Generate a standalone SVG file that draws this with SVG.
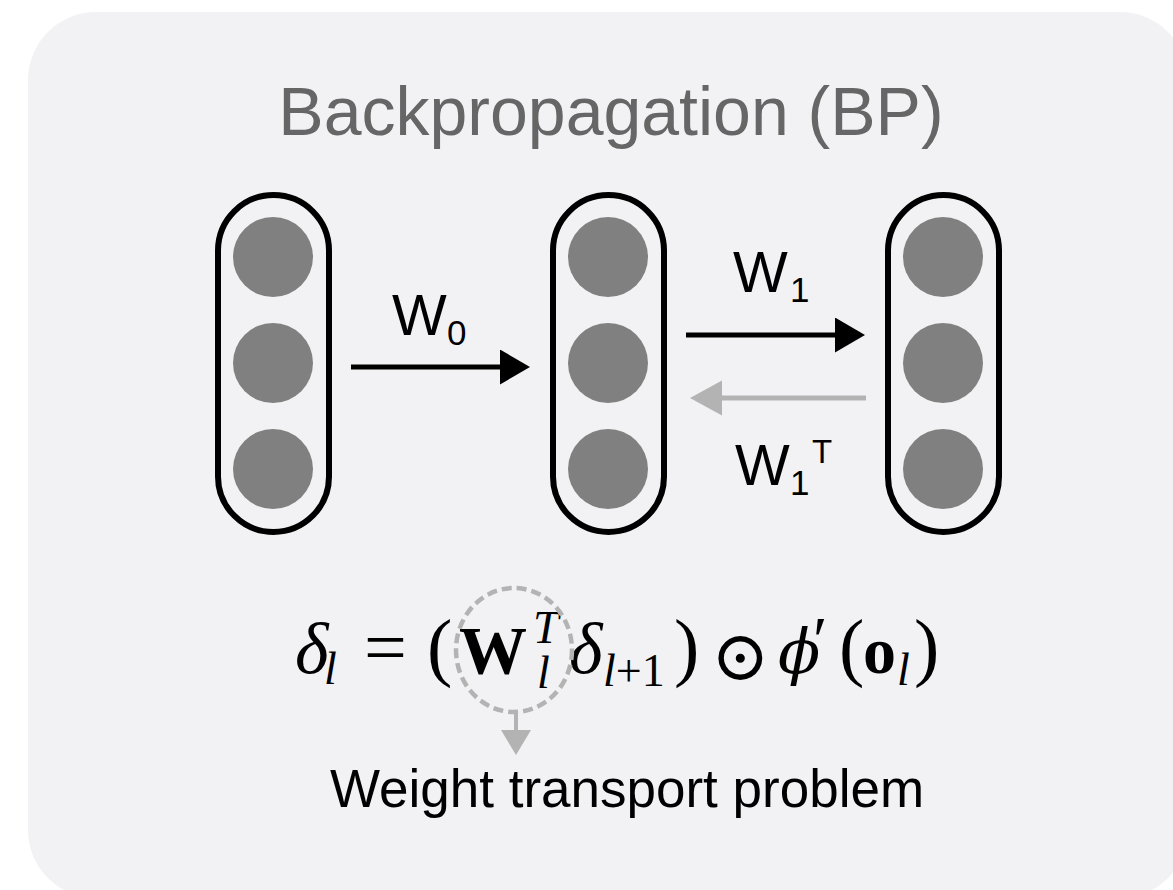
<svg xmlns="http://www.w3.org/2000/svg" width="1173" height="890" viewBox="0 0 1173 890">
<style>
.pill{fill:none;stroke:#000;stroke-width:6}
.neuron{fill:#808080}
.lbl{font-family:"Liberation Sans",Arial,sans-serif;fill:#000}
.math{font-family:"Liberation Serif","DejaVu Serif",serif;fill:#000}
.it{font-style:italic}
.bf{font-weight:bold}
</style>
<defs>
<marker id="hBlack" markerUnits="userSpaceOnUse" markerWidth="32" markerHeight="36" refX="2" refY="17.5" orient="auto">
<path d="M0,0 L30,17.5 L0,35 z" fill="#000"/>
</marker>
<marker id="hGray" markerUnits="userSpaceOnUse" markerWidth="34" markerHeight="36" refX="2" refY="17.5" orient="auto">
<path d="M0,0 L32,17.5 L0,35 z" fill="#b3b3b3"/>
</marker>
<marker id="hGraySm" markerUnits="userSpaceOnUse" markerWidth="28" markerHeight="32" refX="2" refY="15" orient="auto">
<path d="M0,0 L25,15 L0,30 z" fill="#b3b3b3"/>
</marker>
</defs>
<rect id="panel" x="28" y="12" width="1160" height="886" rx="68" ry="68" fill="#f2f2f4"/>
<text id="title" x="611" y="135" text-anchor="middle" font-family="'Liberation Sans',Arial,sans-serif" font-size="68" fill="#666666">Backpropagation (BP)</text>
<g id="layer0">
<rect class="pill" x="218" y="195" width="111" height="337" rx="55.5" ry="55.5"/>
<circle class="neuron" cx="273" cy="257" r="40"/>
<circle class="neuron" cx="273" cy="363" r="40"/>
<circle class="neuron" cx="273" cy="469" r="40"/>
</g>
<g id="layer1">
<rect class="pill" x="553" y="195" width="111" height="337" rx="55.5" ry="55.5"/>
<circle class="neuron" cx="608" cy="257" r="40"/>
<circle class="neuron" cx="608" cy="363" r="40"/>
<circle class="neuron" cx="608" cy="469" r="40"/>
</g>
<g id="layer2">
<rect class="pill" x="888" y="195" width="111" height="337" rx="55.5" ry="55.5"/>
<circle class="neuron" cx="943" cy="257" r="40"/>
<circle class="neuron" cx="943" cy="363" r="40"/>
<circle class="neuron" cx="943" cy="469" r="40"/>
</g>
<g id="connectors">
<line x1="351" y1="367" x2="502" y2="367" stroke="#000" stroke-width="5" marker-end="url(#hBlack)"/>
<line x1="686" y1="335" x2="837" y2="335" stroke="#000" stroke-width="5" marker-end="url(#hBlack)"/>
<line x1="866" y1="398" x2="720" y2="398" stroke="#b3b3b3" stroke-width="5" marker-end="url(#hGray)"/>
<line x1="516" y1="712" x2="516" y2="732" stroke="#b3b3b3" stroke-width="4" marker-end="url(#hGraySm)"/>
</g>
<g id="labels">
<text class="lbl" x="392" y="335" font-size="58">W</text>
<text class="lbl" x="447" y="345" font-size="35">0</text>
<text class="lbl" x="733" y="292" font-size="58">W</text>
<text class="lbl" x="790" y="302" font-size="35">1</text>
<text class="lbl" x="735" y="485" font-size="58">W</text>
<text class="lbl" x="790" y="495" font-size="35">1</text>
<text class="lbl" x="812" y="463" font-size="33">T</text>
</g>
<g id="equation">
<text class="math it" x="295" y="673" font-size="72">δ</text>
<text class="math it" x="324" y="684" font-size="46">l</text>
<text class="math" x="364" y="673" font-size="76">=</text>
<text class="math" x="427" y="672" font-size="76">(</text>
<text class="math bf" x="459" y="673" font-size="68">W</text>
<text class="math it" x="533" y="643" font-size="46">T</text>
<text class="math it" x="537" y="688" font-size="46">l</text>
<text class="math it" x="569" y="673" font-size="72">δ</text>
<text class="math" x="603" y="686" font-size="46"><tspan class="it">l</tspan>+1</text>
<text class="math" x="674" y="672" font-size="76">)</text>
<text x="711" y="680" font-family="'DejaVu Serif',serif" font-size="70" fill="#000">⊙</text>
<text x="778" y="673" font-family="'DejaVu Serif',serif" font-style="italic" font-size="62" fill="#000">ϕ</text>
<text class="math" x="813" y="662" font-size="66">′</text>
<text class="math" x="839" y="672" font-size="76">(</text>
<text class="math bf" x="863" y="673" font-size="66">o</text>
<text class="math it" x="897" y="685" font-size="46">l</text>
<text class="math" x="914" y="672" font-size="76">)</text>
</g>
<g id="highlight">
<ellipse cx="514" cy="650" rx="58" ry="62" fill="none" stroke="#b3b3b3" stroke-width="4.5" stroke-dasharray="10 5"/>
</g>
<text id="caption" x="627" y="807" text-anchor="middle" font-family="'Liberation Sans',Arial,sans-serif" font-size="53" fill="#000">Weight transport problem</text>
</svg>
